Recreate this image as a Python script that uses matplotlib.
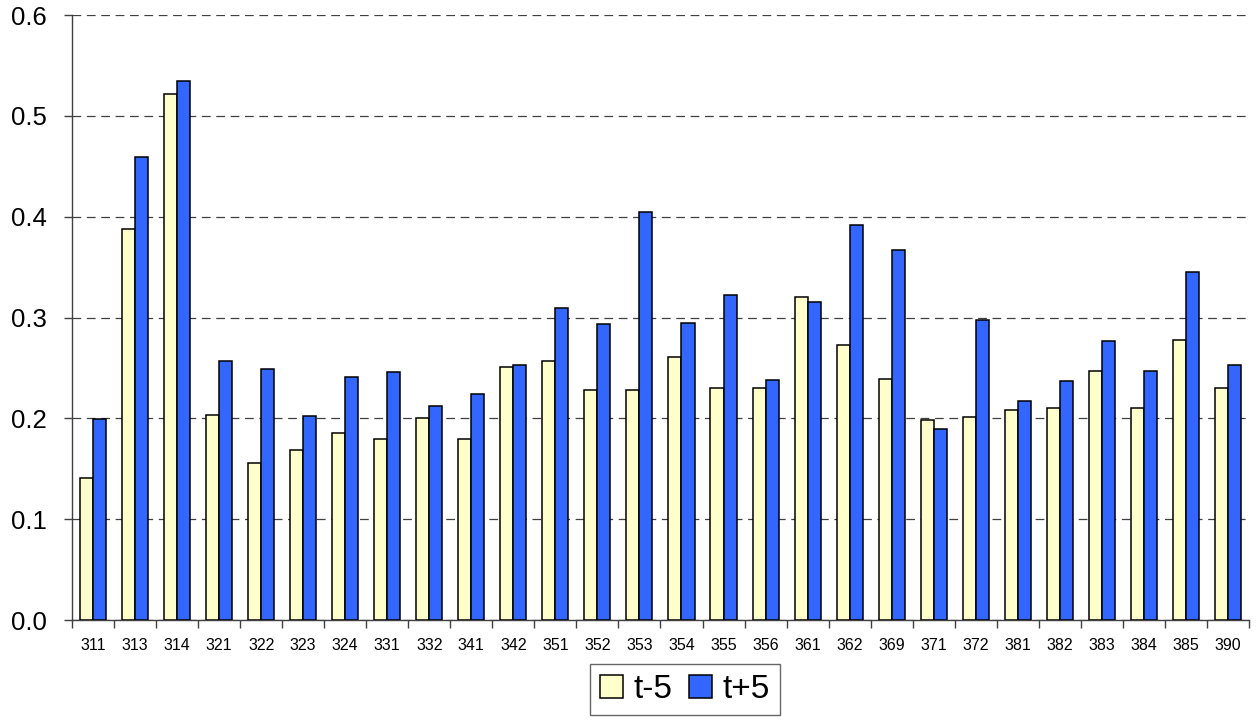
import numpy as np
import matplotlib
matplotlib.use('Agg')
import matplotlib.pyplot as plt

plt.rcParams['font.family'] = ['Liberation Sans', 'DejaVu Sans']

# category codes along the x axis
codes = ['311', '313', '314', '321', '322', '323', '324', '331', '332', '341',
         '342', '351', '352', '353', '354', '355', '356', '361', '362', '369',
         '371', '372', '381', '382', '383', '384', '385', '390']

# values
t_minus_5 = [0.141, 0.388, 0.522, 0.203, 0.156, 0.169, 0.186, 0.180, 0.200, 0.180,
             0.251, 0.257, 0.228, 0.228, 0.261, 0.230, 0.230, 0.320, 0.273, 0.239,
             0.198, 0.201, 0.208, 0.210, 0.247, 0.210, 0.278, 0.230]
t_plus_5 = [0.199, 0.459, 0.535, 0.257, 0.249, 0.202, 0.241, 0.246, 0.212, 0.224,
            0.253, 0.310, 0.294, 0.405, 0.295, 0.322, 0.238, 0.315, 0.392, 0.367,
            0.190, 0.298, 0.217, 0.237, 0.277, 0.247, 0.345, 0.253]

y_ticks = [0.0, 0.1, 0.2, 0.3, 0.4, 0.5, 0.6]

color_minus = '#FFFFCC'
color_plus = '#3366FF'

fig = plt.figure(figsize=(12.59, 7.21), dpi=100)
ax = fig.add_axes([0.0572, 0.140, 0.9348, 0.839])

x = np.arange(len(codes))
width = 0.31

ax.bar(x - width / 2, t_minus_5, width, color=color_minus, edgecolor='black',
       linewidth=1.1, label='t-5', zorder=3)
ax.bar(x + width / 2, t_plus_5, width, color=color_plus, edgecolor='black',
       linewidth=1.1, label='t+5', zorder=3)

ax.set_xlim(-0.5, len(codes) - 0.5)
ax.set_ylim(0, 0.6)

# y axis
ax.set_yticks(y_ticks)
ax.set_yticklabels(['{:.1f}'.format(v) for v in y_ticks], fontsize=18.5)
ax.tick_params(axis='y', direction='out', length=6, width=1, color='#404040', pad=12)
ax.yaxis.grid(True, color='#404040', linestyle=(0, (7, 4.5)), linewidth=0.9, zorder=0)

# x axis: labels at the centres, tick marks at the boundaries
ax.set_xticks(x)
ax.set_xticklabels(codes, fontsize=11.5)
ax.set_xticks(np.arange(len(codes) + 1) - 0.5, minor=True)
ax.tick_params(axis='x', which='major', length=0, pad=13)
ax.tick_params(axis='x', which='minor', direction='out', length=6, width=1, color='#404040')

for side in ['top', 'right']:
    ax.spines[side].set_visible(False)
for side in ['left', 'bottom']:
    ax.spines[side].set_color('#404040')
    ax.spines[side].set_linewidth(1)

leg = ax.legend(loc='center', bbox_to_anchor=(0.544, 0.0435), bbox_transform=fig.transFigure,
                ncol=2, fontsize=24, frameon=True, fancybox=False, handlelength=0.7,
                handleheight=0.7, handletextpad=0.3, columnspacing=0.5, borderpad=0.3,
                borderaxespad=0)
leg.get_frame().set_edgecolor('#404040')
leg.get_frame().set_linewidth(1)

fig.savefig('out.png', dpi=100)
